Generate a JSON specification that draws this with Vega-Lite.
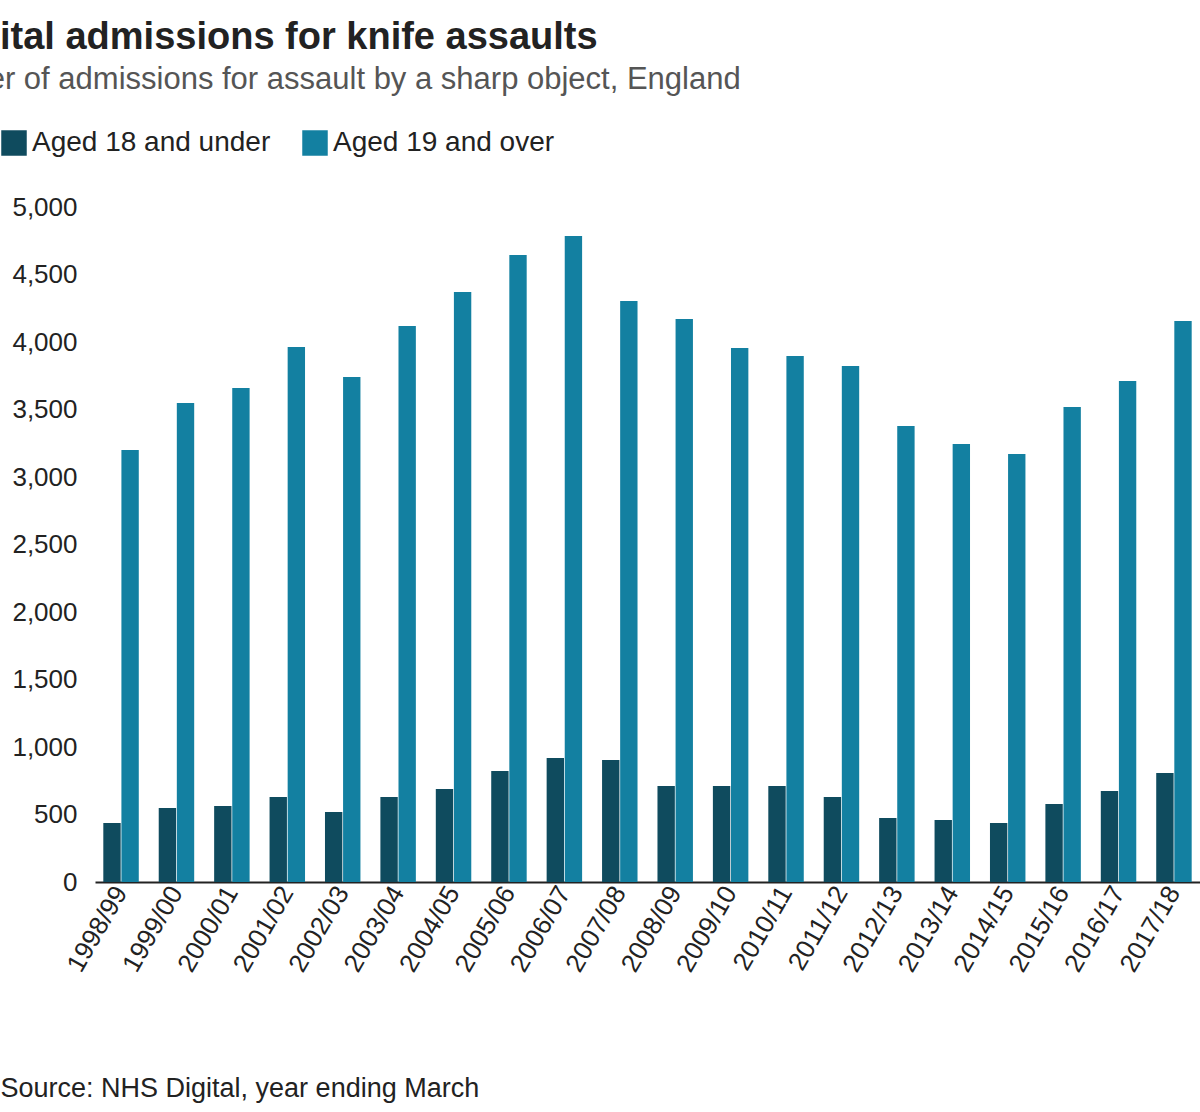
{
  "$schema": "https://vega.github.io/schema/vega-lite/v6.json",
  "width": 1105,
  "height": 675,
  "autosize": "none",
  "padding": {"left": 95, "top": 207, "right": 0, "bottom": 230},
  "background": "white",
  "title": {
    "text": "Hospital admissions for knife assaults",
    "subtitle": "Number of admissions for assault by a sharp object, England",
    "anchor": "start",
    "dx": -95,
    "offset": 34,
    "font": "Liberation Sans",
    "fontSize": 38,
    "fontWeight": "bold",
    "color": "#222222",
    "subtitleFont": "Liberation Sans",
    "subtitleFontSize": 31,
    "subtitleColor": "#555555",
    "subtitlePadding": 8
  },
  "data": {
    "values": [
      {"year": "1998/99", "group": "Aged 18 and under", "value": 437},
      {"year": "1999/00", "group": "Aged 18 and under", "value": 548},
      {"year": "2000/01", "group": "Aged 18 and under", "value": 563},
      {"year": "2001/02", "group": "Aged 18 and under", "value": 630},
      {"year": "2002/03", "group": "Aged 18 and under", "value": 519},
      {"year": "2003/04", "group": "Aged 18 and under", "value": 630},
      {"year": "2004/05", "group": "Aged 18 and under", "value": 689},
      {"year": "2005/06", "group": "Aged 18 and under", "value": 822},
      {"year": "2006/07", "group": "Aged 18 and under", "value": 919},
      {"year": "2007/08", "group": "Aged 18 and under", "value": 904},
      {"year": "2008/09", "group": "Aged 18 and under", "value": 711},
      {"year": "2009/10", "group": "Aged 18 and under", "value": 711},
      {"year": "2010/11", "group": "Aged 18 and under", "value": 711},
      {"year": "2011/12", "group": "Aged 18 and under", "value": 630},
      {"year": "2012/13", "group": "Aged 18 and under", "value": 474},
      {"year": "2013/14", "group": "Aged 18 and under", "value": 459},
      {"year": "2014/15", "group": "Aged 18 and under", "value": 437},
      {"year": "2015/16", "group": "Aged 18 and under", "value": 578},
      {"year": "2016/17", "group": "Aged 18 and under", "value": 674},
      {"year": "2017/18", "group": "Aged 18 and under", "value": 807},
      {"year": "1998/99", "group": "Aged 19 and over", "value": 3200},
      {"year": "1999/00", "group": "Aged 19 and over", "value": 3548},
      {"year": "2000/01", "group": "Aged 19 and over", "value": 3659},
      {"year": "2001/02", "group": "Aged 19 and over", "value": 3963},
      {"year": "2002/03", "group": "Aged 19 and over", "value": 3741},
      {"year": "2003/04", "group": "Aged 19 and over", "value": 4119},
      {"year": "2004/05", "group": "Aged 19 and over", "value": 4370},
      {"year": "2005/06", "group": "Aged 19 and over", "value": 4644},
      {"year": "2006/07", "group": "Aged 19 and over", "value": 4785},
      {"year": "2007/08", "group": "Aged 19 and over", "value": 4304},
      {"year": "2008/09", "group": "Aged 19 and over", "value": 4170},
      {"year": "2009/10", "group": "Aged 19 and over", "value": 3956},
      {"year": "2010/11", "group": "Aged 19 and over", "value": 3896},
      {"year": "2011/12", "group": "Aged 19 and over", "value": 3822},
      {"year": "2012/13", "group": "Aged 19 and over", "value": 3378},
      {"year": "2013/14", "group": "Aged 19 and over", "value": 3244},
      {"year": "2014/15", "group": "Aged 19 and over", "value": 3170},
      {"year": "2015/16", "group": "Aged 19 and over", "value": 3519},
      {"year": "2016/17", "group": "Aged 19 and over", "value": 3711},
      {"year": "2017/18", "group": "Aged 19 and over", "value": 4156}
    ]
  },
  "mark": {"type": "bar"},
  "encoding": {
    "x": {
      "field": "year",
      "type": "nominal",
      "sort": null,
      "scale": {"paddingInner": 0.36, "paddingOuter": 0.15},
      "title": "Source: NHS Digital, year ending March",
      "axis": {
        "labelAngle": -60,
        "labelFontSize": 26,
        "labelColor": "#222222",
        "labelFont": "Liberation Sans",
        "labelPadding": 6,
        "ticks": false,
        "domainColor": "#222222",
        "domainWidth": 2,
        "titleFont": "Liberation Sans",
        "titleFontSize": 27,
        "titleFontWeight": "normal",
        "titleColor": "#222222",
        "titleAnchor": "start",
        "titleAlign": "left",
        "titleBaseline": "alphabetic",
        "titleX": -95,
        "titleY": 214
      }
    },
    "xOffset": {"field": "group", "type": "nominal", "scale": {"paddingInner": 0.04}},
    "y": {
      "field": "value",
      "type": "quantitative",
      "scale": {"domain": [0, 5000]},
      "title": null,
      "axis": {
        "values": [0, 500, 1000, 1500, 2000, 2500, 3000, 3500, 4000, 4500, 5000],
        "grid": false,
        "domain": false,
        "ticks": false,
        "labelFontSize": 26,
        "labelFont": "Liberation Sans",
        "labelColor": "#222222",
        "labelPadding": 18
      }
    },
    "color": {
      "field": "group",
      "type": "nominal",
      "scale": {"range": ["#0f4b5e", "#1380a1"]},
      "legend": {
        "title": null,
        "orient": "none",
        "legendX": -95,
        "legendY": -78,
        "direction": "horizontal",
        "symbolType": "square",
        "symbolSize": 650,
        "symbolStrokeWidth": 0,
        "labelFontSize": 28,
        "labelFont": "Liberation Sans",
        "labelColor": "#222222",
        "labelLimit": 500,
        "columnPadding": 30
      }
    }
  },
  "config": {"view": {"stroke": null}}
}
